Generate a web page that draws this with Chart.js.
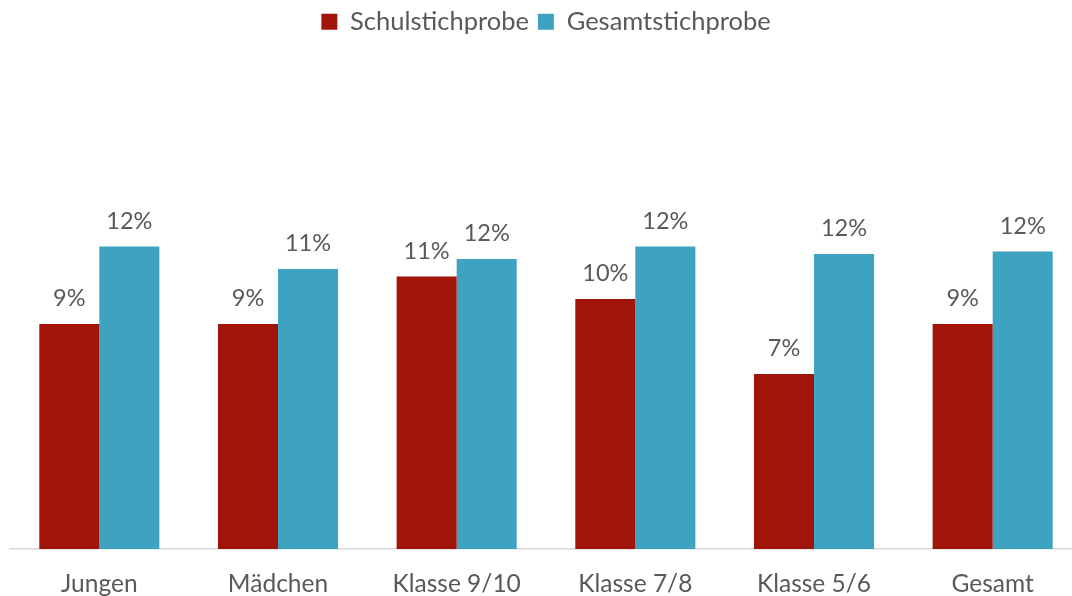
<!DOCTYPE html>
<html lang="de">
<head>
    <meta charset="UTF-8">
    <title>Schulstichprobe / Gesamtstichprobe</title>
    <script src="https://cdn.jsdelivr.net/npm/chart.js@4.4.1/dist/chart.umd.min.js"></script>
    <style>
        html, body {margin: 0; padding: 0; overflow: hidden; background: #fff;}
        #chartDom {position: absolute; left: 0; top: 0; width: 1092px; height: 596px;}
    </style>
    <script>
        // Kategorien und Werte (in Prozent)
        const categories = ['Jungen', 'Mädchen', 'Klasse 9/10', 'Klasse 7/8', 'Klasse 5/6', 'Gesamt'];
        const schulstichprobe = [9.0, 9.0, 10.9, 10.0, 7.0, 9.0];
        const gesamtstichprobe = [12.1, 11.2, 11.6, 12.1, 11.8, 11.9];
        const seriesNames = ['Schulstichprobe', 'Gesamtstichprobe'];

        const textColor = '#595959';
        const fontFamily = 'Lato, "Noto Sans", sans-serif';

        // Legende hoeher machen, damit der Plotbereich passt
        const legendHeight = {
            id: 'legendHeight',
            beforeInit(chart) {
                const fit = chart.legend.fit;
                chart.legend.fit = function () {
                    fit.bind(chart.legend)();
                    this.height = 199;
                };
            }
        };

        // Werte ueber den Balken
        const valueLabels = {
            id: 'valueLabels',
            afterDatasetsDraw(chart) {
                const ctx = chart.ctx;
                ctx.save();
                ctx.font = '23.5px ' + fontFamily;
                ctx.fillStyle = textColor;
                ctx.textAlign = 'center';
                ctx.textBaseline = 'alphabetic';
                chart.data.datasets.forEach((ds, i) => {
                    chart.getDatasetMeta(i).data.forEach((bar, j) => {
                        ctx.fillText(Math.round(ds.data[j]) + '%', bar.x, bar.y - 18);
                    });
                });
                ctx.restore();
            }
        };

        window.onload = function () {
            new Chart(document.getElementById('chart'), {
                type: 'bar',
                data: {
                    labels: categories,
                    datasets: [{
                        label: seriesNames[0],
                        data: schulstichprobe,
                        backgroundColor: '#A11409',
                        barPercentage: 1.0,
                        categoryPercentage: 0.672
                    }, {
                        label: seriesNames[1],
                        data: gesamtstichprobe,
                        backgroundColor: '#3DA3C1',
                        barPercentage: 1.0,
                        categoryPercentage: 0.672
                    }]
                },
                options: {
                    responsive: true,
                    maintainAspectRatio: false,
                    animation: false,
                    layout: {padding: {left: 10, right: 10, top: 0, bottom: 0}},
                    plugins: {
                        tooltip: {enabled: false},
                        legend: {
                            position: 'top',
                            labels: {
                                boxWidth: 16,
                                boxHeight: 16,
                                padding: 9,
                                color: textColor,
                                font: {family: fontFamily, size: 25.5}
                            }
                        }
                    },
                    scales: {
                        x: {
                            grid: {display: false},
                            border: {display: true, color: '#d9d9d9', width: 1.5},
                            ticks: {color: textColor, font: {family: fontFamily, size: 24.5}, padding: 12},
                            afterFit(scale) { scale.height = 47; }
                        },
                        y: {
                            display: false,
                            min: 0,
                            max: 14
                        }
                    }
                },
                plugins: [legendHeight, valueLabels]
            });
        };
    </script>
</head>
<body>
<div id="chartDom"><canvas id="chart"></canvas></div>
</body>
</html>
